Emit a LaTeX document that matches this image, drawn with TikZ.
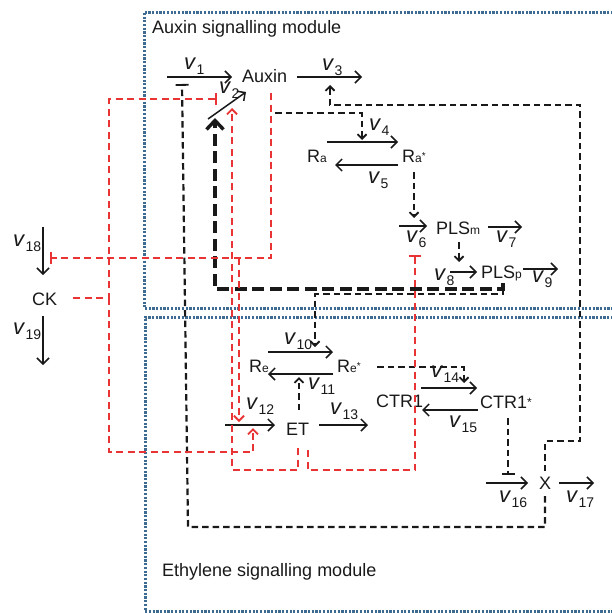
\documentclass[tikz,border=0pt]{standalone}
\usepackage{fontspec}
\setmainfont{Liberation Sans}
\usetikzlibrary{arrows.meta}
\definecolor{boxblue}{RGB}{62,107,145}
\definecolor{inred}{RGB}{232,52,52}
\newcommand\rate[1]{{\fontsize{22}{22}\selectfont\textit{v}}\kern0.3pt\raisebox{-5pt}{\fontsize{14}{14}\selectfont #1}}
\newcommand\smallsub[1]{{\fontsize{12}{12}\selectfont #1}}
\newcommand\smallstar{\raisebox{3pt}{\fontsize{10}{10}\selectfont *}}
\tikzset{
  every node/.style={font=\fontsize{18}{20}\selectfont, inner sep=0pt, text=black!90},
  txt/.style={anchor=base west},
  modbox/.style={boxblue, line width=3pt, dash pattern=on 2.2pt off 1.5pt},
  rxn/.style={black!90, line width=1.5pt, -{Straight Barb[length=6pt,width=12pt]}},
  bdash/.style={black!90, line width=2.2pt, dash pattern=on 6.5pt off 4pt},
  bact/.style={bdash, -{Straight Barb[length=4.5pt,width=9pt,line width=1.8pt]}},
  binh/.style={bdash, -{Bar[width=13pt,line width=1.8pt]}},
  bthick/.style={black!90, line width=4.6pt, dash pattern=on 12pt off 5.5pt, -{Straight Barb[length=9pt,width=17pt,line width=3.4pt]}},
  rdash/.style={inred, line width=2.4pt, dash pattern=on 7pt off 4.5pt},
  ract/.style={rdash, -{Straight Barb[length=5pt,width=10pt,line width=1.8pt]}},
  rinh/.style={rdash, -{Bar[width=12pt,line width=1.8pt]}}
}
\begin{document}
\begin{tikzpicture}[x=1pt,y=-1pt]
\useasboundingbox (0,0) rectangle (611,613);

% module boxes
\draw[modbox] (613,12) -- (144,12) -- (144,308) -- (613,308);
\draw[modbox] (613,317) -- (145,317) -- (145,611) -- (613,611);
\node[txt] (auxmod) at (152,33) {Auxin signalling module};
\node[txt] (ethmod) at (162,576) {Ethylene signalling module};

% species
\node[txt] (auxin) at (242,82) {Auxin};
\node[txt] (Ra) at (307,162) {R\smallsub{a}};
\node[txt] (Ras) at (402,162) {R\smallsub{a}\smallstar};
\node[txt] (PLSm) at (436,234) {PLS\smallsub{m}};
\node[txt] (PLSp) at (481,278) {PLS\smallsub{p}};
\node[txt] (Re) at (249,372) {R\smallsub{e}};
\node[txt] (Res) at (337,372) {R\smallsub{e}\smallstar};
\node[txt] (ET) at (286,435) {ET};
\node[txt] (CTR) at (376,407) {CTR1};
\node[txt] (CTRs) at (480,408) {CTR1\raisebox{2pt}{\fontsize{12}{12}\selectfont *}};
\node[txt] (X) at (539,489) {X};
\node[txt] (CK) at (32,305) {CK};

% rate labels
\node[txt] (l1) at (184,69) {\rate{1}};
\node[txt] (l2) at (219,93) {\rate{2}};
\node[txt] (l3) at (322,70) {\rate{3}};
\node[txt] (l4) at (369,130) {\rate{4}};
\node[txt] (l5) at (368,183) {\rate{5}};
\node[txt] (l6) at (406,242) {\rate{6}};
\node[txt] (l7) at (496,242) {\rate{7}};
\node[txt] (l8) at (434,280) {\rate{8}};
\node[txt] (l9) at (532,282) {\rate{9}};
\node[txt] (l10) at (284,344) {\rate{10}};
\node[txt] (l11) at (308,389) {\rate{11}};
\node[txt] (l12) at (246,409) {\rate{12}};
\node[txt] (l13) at (330,414) {\rate{13}};
\node[txt] (l14) at (431,377) {\rate{14}};
\node[txt] (l15) at (449,427) {\rate{15}};
\node[txt] (l16) at (499,502) {\rate{16}};
\node[txt] (l17) at (566,502) {\rate{17}};
\node[txt] (l18) at (13,246) {\rate{18}};
\node[txt] (l19) at (13,334) {\rate{19}};

% reaction arrow ends
\coordinate (r1a) at (167,77);  \coordinate (r1b) at (232,77);
\coordinate (r2a) at (208,119); \coordinate (r2b) at (246,92);
\coordinate (r3a) at (297,77);  \coordinate (r3b) at (362,77);
\coordinate (r4a) at (327,142); \coordinate (r4b) at (398,142);
\coordinate (r5a) at (398,165); \coordinate (r5b) at (335,165);
\coordinate (r6a) at (399,226); \coordinate (r6b) at (427,226);
\coordinate (r7a) at (488,227); \coordinate (r7b) at (522,227);
\coordinate (r8a) at (450,272); \coordinate (r8b) at (477,272);
\coordinate (r9a) at (523,269); \coordinate (r9b) at (558,269);
\coordinate (r10a) at (268,352); \coordinate (r10b) at (333,352);
\coordinate (r11a) at (333,374); \coordinate (r11b) at (268,374);
\coordinate (r12a) at (225,425); \coordinate (r12b) at (275,425);
\coordinate (r13a) at (319,425); \coordinate (r13b) at (368,425);
\coordinate (r14a) at (421,388); \coordinate (r14b) at (477,388);
\coordinate (r15a) at (478,410); \coordinate (r15b) at (422,410);
\coordinate (r16a) at (486,483); \coordinate (r16b) at (528,483);
\coordinate (r17a) at (559,483); \coordinate (r17b) at (594,483);
\coordinate (r18a) at (43,227); \coordinate (r18b) at (43,275);
\coordinate (r19a) at (43,316); \coordinate (r19b) at (43,365);

\foreach \i in {1,...,19} \draw[rxn] (r\i a) -- (r\i b);

% black dashed regulation
\coordinate (rasOut) at (414,172); \coordinate (v6in) at (414,218);
\draw[bact] (rasOut) -- (v6in);
\coordinate (plsmOut) at (459,242); \coordinate (v8in) at (459,262);
\draw[bact] (plsmOut) -- (v8in);
\coordinate (auxOut) at (275,113); \coordinate (v4in) at (362,140);
\draw[bact] (auxOut) -| (v4in);
\coordinate (xUp) at (545,471); \coordinate (v3in) at (330,85);
\draw[bact] (xUp) -- (545,441) -- (580,441) -- (580,105) -- (330,105) -- (v3in);
\coordinate (xDown) at (545,496); \coordinate (v1in) at (182,84);
\draw[binh] (xDown) -- (545,527) -- (188,527) -- (v1in);
\coordinate (plspOut) at (503,283); \coordinate (v2in) at (215,118);
\coordinate (v10in) at (315,347);
\draw[bact] (503,289) -- (503,294) -- (315,294) -- (v10in);
\draw[bthick] (plspOut) -- (503,289) -- (215,289) -- (v2in);
\coordinate (resOut) at (377,367); \coordinate (v14in) at (464,383);
\draw[bact] (resOut) -| (v14in);
\coordinate (etUp) at (299,410); \coordinate (v11in) at (299,377);
\draw[bact] (etUp) -- (v11in);
\coordinate (ctrsOut) at (508,418); \coordinate (v16in) at (508,475);
\draw[binh] (ctrsOut) -- (v16in);

% red dashed cross-talk
\coordinate (ckOut) at (73,298); \coordinate (v2inh) at (217,99);
\draw[rinh] (ckOut) -- (109,298) -- (109,99) -- (v2inh);
\coordinate (v12up) at (253,428);
\draw[ract] (109,298) -- (109,452) -- (253,452) -- (v12up);
\coordinate (auxRed) at (271,93); \coordinate (v18inh) at (50,258);
\draw[rinh] (auxRed) -- (271,258) -- (v18inh);
\coordinate (v12down) at (239,422);
\draw[ract] (239,258) -- (v12down);
\coordinate (etRedA) at (298,448); \coordinate (v2red) at (232,108);
\draw[ract] (etRedA) -- (298,470) -- (232,470) -- (v2red);
\coordinate (etRedB) at (308,450); \coordinate (v6inh) at (415,255);
\draw[rinh] (etRedB) -- (308,470) -- (415,470) -- (v6inh);
\end{tikzpicture}
\end{document}
